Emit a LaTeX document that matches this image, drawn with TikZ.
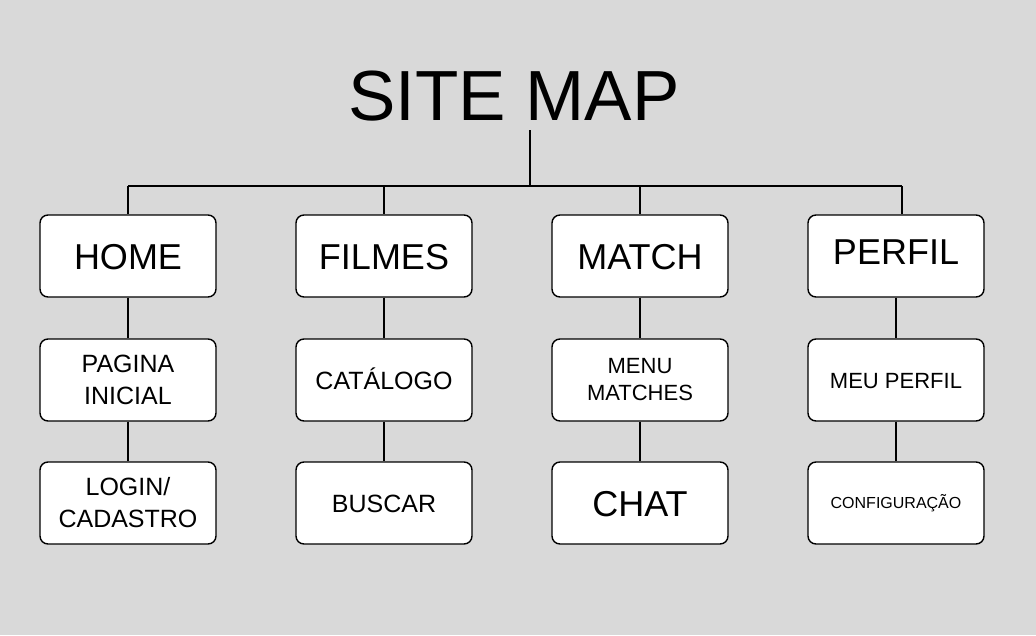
\documentclass[tikz,border=0pt]{standalone}
\usepackage{fontspec}
\setmainfont{Liberation Sans}
\definecolor{bg}{HTML}{D9D9D9}
\begin{document}
\begin{tikzpicture}[x=1pt,y=-1pt,
  pagebox/.style={draw=black, line width=1.4pt, fill=white, rounded corners=8pt,
    minimum width=176pt, minimum height=82pt, inner sep=0pt, align=center},
  big/.style={font=\fontsize{36}{40}\selectfont, text height=26pt, text depth=0pt},
  mid/.style={font=\fontsize{25}{32}\selectfont},
  midone/.style={font=\fontsize{25}{32}\selectfont, text height=18pt, text depth=0pt},
  small/.style={font=\fontsize{22}{27}\selectfont},
  smallone/.style={font=\fontsize{22}{27}\selectfont, text height=16pt, text depth=0pt},
  tiny/.style={font=\fontsize{16}{20}\selectfont, text height=11.5pt, text depth=0pt},
  link/.style={draw=black, line width=1.2pt}]
\fill[bg] (0,0) rectangle (1036,635);
\useasboundingbox (0,0) rectangle (1036,635);

\node[anchor=base, font=\fontsize{71}{71}\selectfont, inner sep=0pt] (title) at (514,120) {SITE MAP};

% row 1
\node[pagebox, big] (home) at (128,256) {HOME};
\node[pagebox, big] (filmes) at (384,256) {FILMES};
\node[pagebox, big] (match) at (640,256) {MATCH};
\node[pagebox, big, text depth=9pt] (perfil) at (896,256) {PERFIL};
% row 2
\node[pagebox, mid] (inicial) at (128,380) {PAGINA\\INICIAL};
\node[pagebox, midone] (catalogo) at (384,380) {CATÁLOGO};
\node[pagebox, small] (menu) at (640,380) {MENU\\MATCHES};
\node[pagebox, smallone] (meuperfil) at (896,380) {MEU PERFIL};
% row 3
\node[pagebox, mid] (login) at (128,503) {LOGIN/\\CADASTRO};
\node[pagebox, midone] (buscar) at (384,503) {BUSCAR};
\node[pagebox, big] (chat) at (640,503) {CHAT};
\node[pagebox, tiny] (config) at (896,503) {CONFIGURAÇÃO};

% tree
\coordinate (top) at (530,130);
\coordinate (hub) at (530,186);
\coordinate (b1) at (128,186);
\coordinate (b2) at (384,186);
\coordinate (b3) at (640,186);
\coordinate (b4) at (902,186);
\draw[link] (top) -- (hub);
\draw[link] (b1) -- (b4);
\draw[link] (b1) -- (home.north);
\draw[link] (b2) -- (filmes.north);
\draw[link] (b3) -- (match.north);
\draw[link] (b4) -- (perfil.north -| b4);

\draw[link] (home) -- (inicial);
\draw[link] (inicial) -- (login);
\draw[link] (filmes) -- (catalogo);
\draw[link] (catalogo) -- (buscar);
\draw[link] (match) -- (menu);
\draw[link] (menu) -- (chat);
\draw[link] (perfil) -- (meuperfil);
\draw[link] (meuperfil) -- (config);
\end{tikzpicture}
\end{document}
